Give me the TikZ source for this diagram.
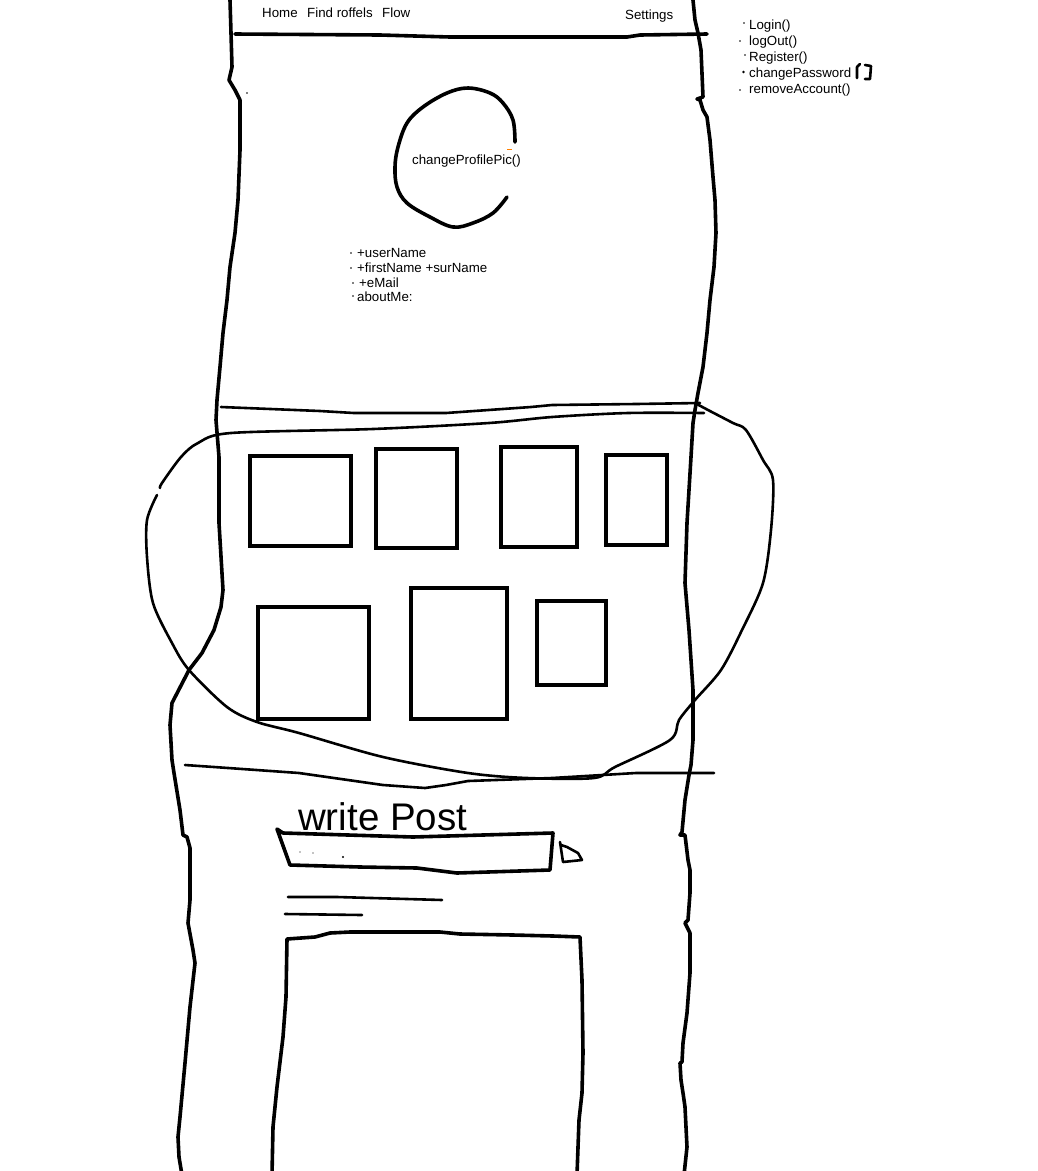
\documentclass[tikz,border=0pt]{standalone}
\usepackage{fontspec}
\setmainfont{Liberation Sans}

\begin{document}
\begin{tikzpicture}[x=1pt, y=-1pt,
    pen/.style={line width=3.6pt, line cap=round, line join=round},
    thinpen/.style={line width=2.6pt, line cap=round, line join=round},
    frame/.style={line width=4.8pt},
    lbl/.style={anchor=base west, inner sep=0pt, font=\fontsize{13.3}{16}\selectfont}]

    \useasboundingbox (0,0) rectangle (1038,1171);

    %outer borders of the page
        \draw[pen] (230,0) -- (231,33) -- (232,67) -- (229,80) -- (232,85) -- (235,90) -- (240,100)
            -- (240,150) -- (238,200) -- (235,233) -- (230,267) -- (227,300) -- (223,333) -- (220,367)
            -- (217,400) -- (216,420) -- (219,457) -- (219,523) -- (223,590) -- (221,607) -- (214,630)
            -- (202,653) -- (189,670) -- (172,703) -- (170,725) -- (172,760) -- (174,773) -- (180,810)
            -- (183,835) -- (187,837) -- (190,848) -- (190,900) -- (188,923) -- (193,950) -- (195,963)
            -- (190,1007) -- (185,1063) -- (180,1117) -- (178,1137) -- (179,1157) -- (182,1175);
        \draw[pen] (693,0) -- (695,20) -- (698,33) -- (701,50) -- (703,97) -- (697,99) -- (700,100)
            -- (703,110) -- (707,117) -- (710,140) -- (713,177) -- (715,200) -- (716,233) -- (714,267)
            -- (710,300) -- (707,333) -- (703,367) -- (698,393) -- (695,410) -- (693,423) -- (691,457)
            -- (687,523) -- (685,583) -- (689,630) -- (693,690) -- (693,740) -- (691,765) -- (689,775)
            -- (685,800) -- (682,832) -- (680,835) -- (685,835) -- (688,860) -- (690,870) -- (690,893)
            -- (688,920) -- (685,923) -- (690,933) -- (690,973) -- (687,1013) -- (683,1043) -- (682,1062)
            -- (680,1063) -- (681,1080) -- (683,1093) -- (685,1107) -- (686,1127) -- (687,1147) -- (684,1175);
        \fill (247,93) circle (0.8);

    %menu bar
        \draw[pen] (235,34) -- (380,35) -- (450,37) -- (627,37) -- (640,35) -- (707,34);
        \node[lbl] (home) at (262,17) {Home};
        \node[lbl] (find) at (307,17) {Find roffels};
        \node[lbl] (flow) at (382,17) {Flow};
        \node[lbl] (settings) at (625,19) {Settings};

    %account functions
        \node[lbl] (login) at (749,29) {Login()};
        \node[lbl] (logout) at (749,45) {logOut()};
        \node[lbl] (register) at (749,61) {Register()};
        \node[lbl] (changepw) at (749,77) {changePassword};
        \node[lbl] (remove) at (749,93) {removeAccount()};
        \fill (744,23) circle (0.8);
        \fill (740,41) circle (0.8);
        \fill (745,55) circle (0.8);
        \fill (743.5,72) circle (1.4);
        \fill (740,90) circle (0.8);
        \draw[thinpen] (860,64) -- (857,67) -- (857,78);
        \draw[thinpen] (865,65) -- (871,66) -- (870,79) -- (865,79);

    %profile picture
        \draw[pen] plot[smooth, tension=0.6] coordinates {(515,142) (513,120) (503,103) (490,93) (468,88)
            (447,93) (423,107) (407,123) (398,147) (395,167) (397,187) (407,203) (430,217) (453,227)
            (473,223) (493,213) (507,197)};
        \node[lbl] (profilepic) at (412,164) {changeProfilePic()};
        \draw[orange, line width=1pt] (507,149) -- (512,149);

    %user data
        \node[lbl] (username) at (357,257) {+userName};
        \node[lbl] (fullname) at (357,272) {+firstName +surName};
        \node[lbl] (email) at (359,287) {+eMail};
        \node[lbl] (aboutme) at (357,301) {aboutMe:};
        \fill (351,253) circle (0.8);
        \fill (351,268) circle (0.8);
        \fill (353,283) circle (0.8);
        \fill (353,296) circle (0.8);

    %gallery
        \draw[thinpen] (221,407) -- (320,411) -- (354,413) -- (446,413) -- (531,407) -- (552,405)
            -- (636,404) -- (700,403);
        \draw[thinpen] plot[smooth, tension=0.5] coordinates {(704,413) (628,413) (552,417) (489,423)
            (373,429) (231,433) (198,443) (181,457) (162,483) (160,488)};
        \draw[thinpen] plot[smooth, tension=0.5] coordinates {(157,495) (147,520) (147,557) (153,603)
            (172,643) (189,670) (227,707) (257,722) (299,733) (383,757) (468,773) (527,778) (594,778)
            (615,767) (670,740) (679,720) (695,700) (721,670) (742,630) (763,583) (771,530) (773,480)
            (763,460) (746,430) (733,423) (708,410) (695,403)};
        \draw[frame] (250,456) rectangle (351,546);
        \draw[frame] (376,449) rectangle (457,548);
        \draw[frame] (501,447) rectangle (577,547);
        \draw[frame] (606,455) rectangle (667,545);
        \draw[frame] (258,607) rectangle (369,719);
        \draw[frame] (411,588) rectangle (507,719);
        \draw[frame] (537,601) rectangle (606,685);
        \draw[thinpen] (185,765) -- (214,767) -- (299,773) -- (383,785) -- (425,788) -- (446,785)
            -- (468,781) -- (552,778) -- (636,773) -- (714,773);

    %posts
        \node[anchor=base west, inner sep=0pt, font=\fontsize{38.5}{38.5}\selectfont] (writepost) at (298,830) {write Post};
        \draw[pen] (277,829) -- (283,833) -- (413,837) -- (553,833) -- (550,870) -- (457,873)
            -- (417,868) -- (360,867) -- (290,865) -- cycle;
        \fill (300,852) circle (0.6);
        \fill (313,853) circle (0.6);
        \fill (343,857) circle (1.2);
        \draw[thinpen] (560,842) -- (563,862) -- (582,860) -- (578,853) -- (567,847) -- (561,845);
        \draw[thinpen] (288,897) -- (337,897) -- (442,900);
        \draw[thinpen] (285,914) -- (362,915);
        \draw[pen] (272,1175) -- (273,1127) -- (277,1087) -- (283,1037) -- (286,997) -- (287,939)
            -- (315,937) -- (330,933) -- (350,932) -- (440,932) -- (460,934) -- (513,935) -- (553,936)
            -- (580,937) -- (582,980) -- (583,1053) -- (582,1093) -- (579,1120) -- (577,1175);

\end{tikzpicture}
\end{document}
